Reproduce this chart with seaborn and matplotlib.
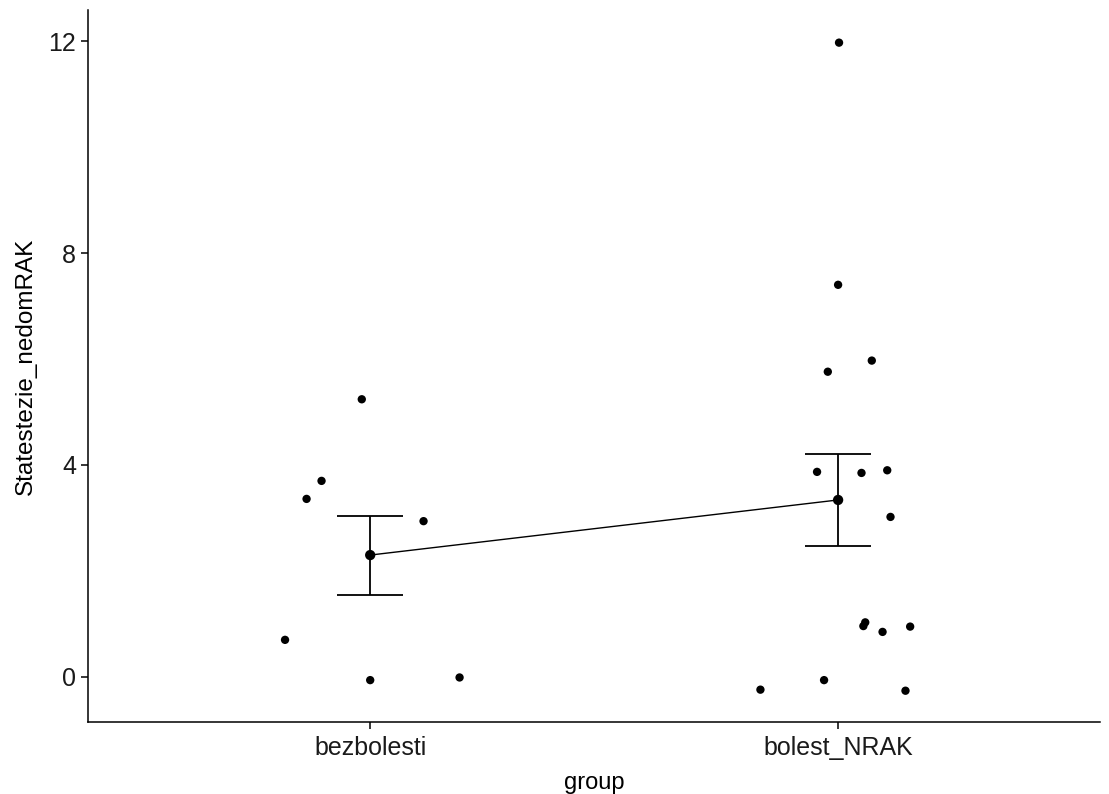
import numpy as np
import pandas as pd
import matplotlib
matplotlib.use("Agg")
import matplotlib.pyplot as plt
import seaborn as sns

# values
groups = ["bezbolesti", "bolest_NRAK"]

bezbolesti_vals = [5.24, 3.70, 3.36, 2.94, 0.70, -0.06, -0.01]
bezbolesti_jitter = [-0.018, -0.104, -0.136, 0.114, -0.182, 0.0, 0.191]

bolest_vals = [11.97, 7.40, 5.97, 5.76, 3.87, 3.85, 3.90, 3.02,
               0.96, 1.03, 0.85, 0.95, -0.24, -0.06, -0.26]
bolest_jitter = [0.002, 0.0, 0.072, -0.022, -0.045, 0.05, 0.105, 0.112,
                 0.054, 0.058, 0.095, 0.154, -0.166, -0.03, 0.144]

group_means = [2.30, 3.34]
ci_low = [1.55, 2.47]
ci_high = [3.04, 4.21]


def build_points() -> pd.DataFrame:
    rows = []
    for code, (vals, jit) in enumerate([(bezbolesti_vals, bezbolesti_jitter),
                                        (bolest_vals, bolest_jitter)]):
        for v, j in zip(vals, jit):
            rows.append({"group": groups[code], "pos": code + j, "value": v})
    return pd.DataFrame(rows)


def main():
    sns.set_theme(style="ticks")
    plt.rcParams["font.family"] = ["Liberation Sans", "DejaVu Sans"]

    pts = build_points()
    summ = pd.DataFrame({"pos": [0, 1], "mean": group_means,
                         "lo": ci_low, "hi": ci_high})

    fig = plt.figure(figsize=(11.09, 7.94), dpi=100)
    ax = fig.add_axes([0.0794, 0.0907, 0.9126, 0.8963])

    # raw points
    sns.scatterplot(data=pts, x="pos", y="value", color="black", s=36,
                    edgecolor="none", ax=ax, zorder=3)

    # mean line and mean points
    sns.lineplot(data=summ, x="pos", y="mean", color="black", linewidth=1.0,
                 ax=ax, zorder=2)
    sns.scatterplot(data=summ, x="pos", y="mean", color="black", s=55,
                    edgecolor="none", ax=ax, zorder=4)

    # standard error bars
    ax.errorbar(summ["pos"], summ["mean"],
                yerr=[summ["mean"] - summ["lo"], summ["hi"] - summ["mean"]],
                fmt="none", ecolor="black", elinewidth=1.3, capsize=24,
                capthick=1.3, zorder=2)

    ax.set_xlim(-0.603, 1.56)
    ax.set_ylim(-0.85, 12.58)
    ax.set_xticks([0, 1])
    ax.set_xticklabels(groups)
    ax.set_yticks([0, 4, 8, 12])
    ax.set_xlabel("group", fontsize=17, color="black", labelpad=9)
    ax.set_ylabel("Statestezie_nedomRAK", fontsize=17.5, color="black",
                  labelpad=8)
    ax.tick_params(axis="both", labelsize=18, labelcolor="#1a1a1a",
                   length=5, width=1.1, color="black")
    ax.tick_params(axis="x", pad=5)

    for side in ["top", "right"]:
        ax.spines[side].set_visible(False)
    for side in ["left", "bottom"]:
        ax.spines[side].set_linewidth(1.1)
        ax.spines[side].set_color("black")

    fig.savefig("out.png", dpi=100)
    plt.close(fig)


if __name__ == "__main__":
    main()
